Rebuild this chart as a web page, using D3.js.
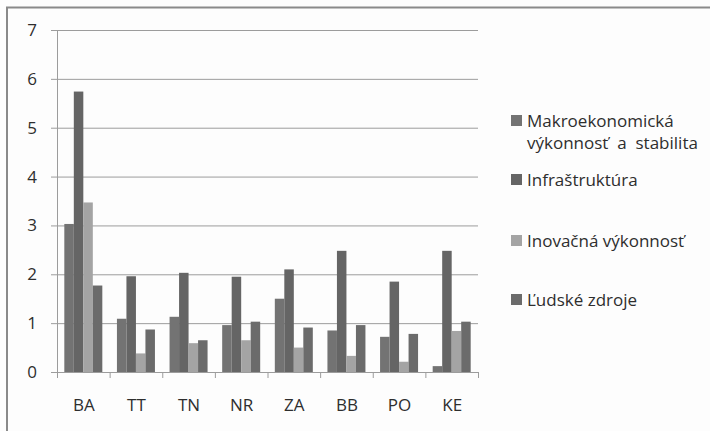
<!DOCTYPE html>
<html>
<head>
<meta charset="utf-8">
<script src="https://cdnjs.cloudflare.com/ajax/libs/d3/7.8.5/d3.min.js"></script>
<style>
  html, body { margin: 0; padding: 0; background: #fdfdfd; }
  svg { display: block; }
  text { font-family: "Open Sans", "Noto Sans", sans-serif; fill: #2e2e2e; }
</style>
</head>
<body>
<svg id="chart" width="710" height="431"></svg>
<script>
const categories = ["BA", "TT", "TN", "NR", "ZA", "BB", "PO", "KE"];
const seriesNames = ["Makroekonomická\nvýkonnosť  a  stabilita", "Infraštruktúra", "Inovačná výkonnosť", "Ľudské zdroje"];
const makro   = [3.03, 1.09, 1.13, 0.96, 1.50, 0.85, 0.72, 0.12];
const infra   = [5.74, 1.96, 2.03, 1.95, 2.10, 2.48, 1.85, 2.48];
const inov    = [3.47, 0.38, 0.59, 0.65, 0.50, 0.33, 0.21, 0.84];
const ludske  = [1.77, 0.87, 0.65, 1.03, 0.91, 0.96, 0.78, 1.03];
const yTicks  = [0, 1, 2, 3, 4, 5, 6, 7];

const seriesValues = [makro, infra, inov, ludske];
const colors = ["#737373", "#656565", "#a4a4a4", "#6b6b6b"];

const svg = d3.select("#chart");

// outer frame
svg.append("rect").attr("x", 7).attr("y", 7.5).attr("width", 720).attr("height", 440)
  .attr("fill", "#fdfdfd").attr("stroke", "#8a8a8a").attr("stroke-width", 2);

const plot = { left: 57, right: 478, top: 30, bottom: 372 };

const x0 = d3.scaleBand().domain(categories).range([plot.left, plot.right]).paddingInner(0).paddingOuter(0);
const x1 = d3.scaleBand().domain(d3.range(4)).range([0, x0.bandwidth()]).paddingOuter(0.77).paddingInner(0);
const y = d3.scaleLinear().domain([0, 7]).range([plot.bottom, plot.top]);

// gridlines
svg.append("g").selectAll("line").data(yTicks).join("line")
  .attr("x1", plot.left - 6).attr("x2", plot.right)
  .attr("y1", d => y(d) + 0.5).attr("y2", d => y(d) + 0.5)
  .attr("stroke", "#9c9c9c").attr("stroke-width", 1);

// bars
const groups = svg.append("g").selectAll("g").data(categories).join("g")
  .attr("transform", d => `translate(${x0(d)},0)`);
groups.selectAll("rect").data((c, ci) => seriesValues.map((s, si) => ({ si, v: s[ci] })))
  .join("rect")
  .attr("x", d => x1(d.si))
  .attr("width", x1.bandwidth())
  .attr("y", d => y(d.v))
  .attr("height", d => y(0) - y(d.v))
  .attr("fill", d => colors[d.si]);

// y axis line
svg.append("line").attr("x1", plot.left + 0.5).attr("x2", plot.left + 0.5)
  .attr("y1", plot.top).attr("y2", plot.bottom + 6).attr("stroke", "#9c9c9c");

// x axis
const xg = svg.append("g").attr("transform", `translate(0,${plot.bottom})`);
xg.append("line").attr("x1", plot.left).attr("x2", plot.right).attr("y1", 0.5).attr("y2", 0.5).attr("stroke", "#9c9c9c");
xg.selectAll("line.tk").data(categories.concat(["end"])).join("line").attr("class", "tk")
  .attr("x1", (d, i) => plot.left + i * x0.step() + 0.5)
  .attr("x2", (d, i) => plot.left + i * x0.step() + 0.5)
  .attr("y1", 0).attr("y2", 6).attr("stroke", "#9c9c9c");
xg.selectAll("text.xl").data(categories).join("text").attr("class", "xl")
  .attr("x", d => x0(d) + x0.bandwidth() / 2 + 0.5)
  .attr("y", 39)
  .attr("text-anchor", "middle")
  .attr("font-size", 17)
  .text(d => d);

// y labels
svg.append("g").selectAll("text").data(yTicks).join("text")
  .attr("x", 37).attr("y", d => y(d) + 6)
  .attr("text-anchor", "end").attr("font-size", 17)
  .text(d => d);

// legend
const legendY = [127, 186, 247, 306];
const leg = svg.append("g");
seriesNames.forEach((name, i) => {
  leg.append("rect").attr("x", 511).attr("y", legendY[i] - 12).attr("width", 11).attr("height", 11).attr("fill", colors[i]);
  const lines = name.split("\n");
  const t = leg.append("text").attr("x", 527).attr("y", legendY[i]).attr("font-size", 17)
    .style("white-space", "pre");
  lines.forEach((ln, j) => {
    t.append("tspan").attr("x", 527).attr("dy", j === 0 ? 0 : 22).text(ln);
  });
});
</script>
</body>
</html>
